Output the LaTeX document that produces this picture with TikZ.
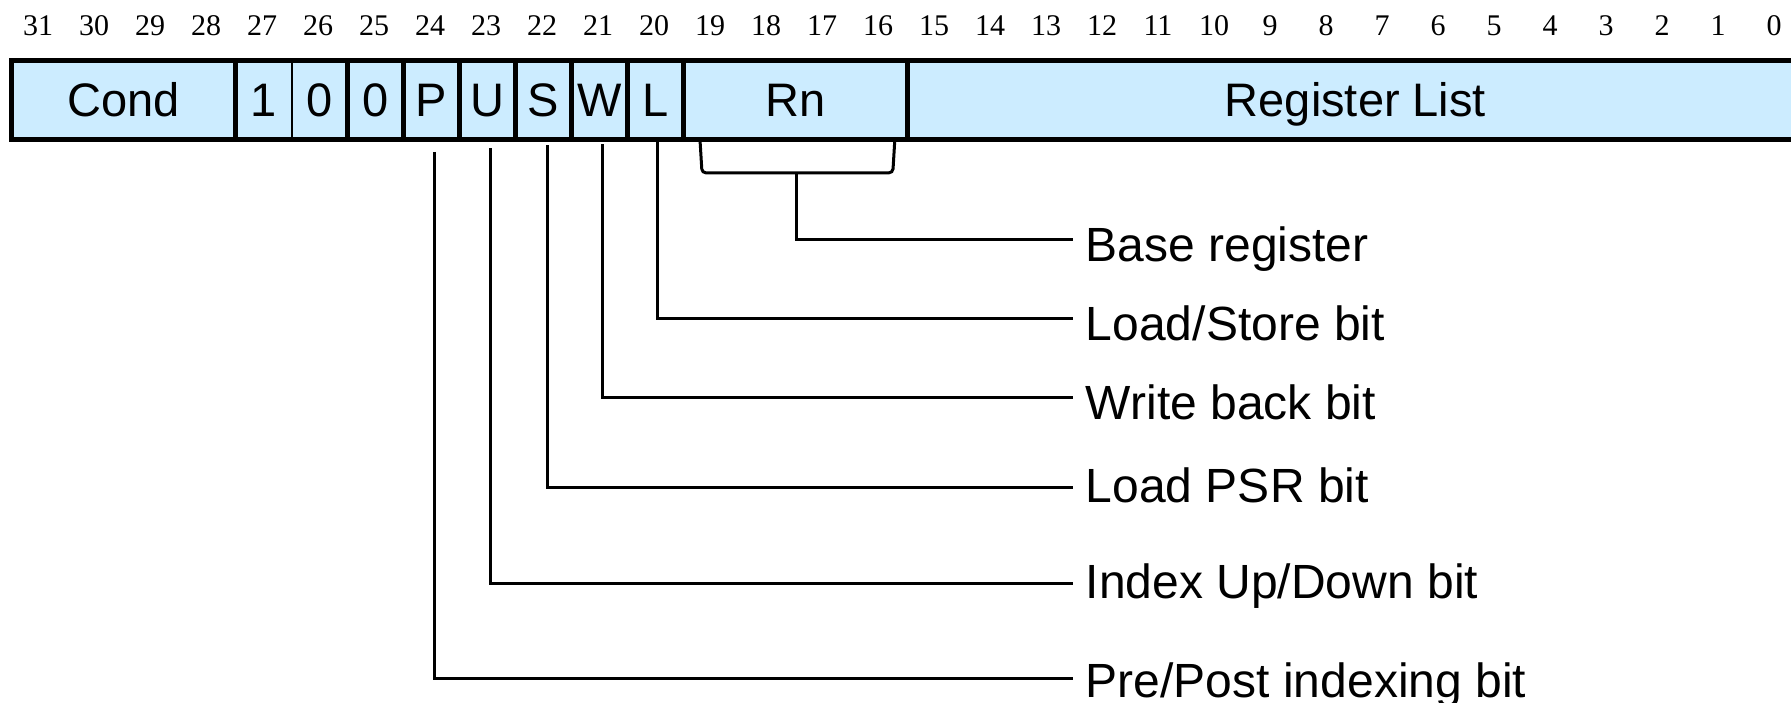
\documentclass[tikz,border=0pt]{standalone}
\usepackage{fontspec}
\setmainfont{Liberation Sans}
\newfontfamily\numfont{Liberation Serif}
\definecolor{fieldblue}{RGB}{204,236,255}
\begin{document}
\begin{tikzpicture}[x=0.5pt,y=-0.5pt,
  field/.style={rectangle, fill=fieldblue, draw=none, minimum height=39.5pt,
    inner sep=0pt, anchor=west, font=\fontsize{23.5}{28}\selectfont,
    text height=16.8pt, text depth=0pt},
  bitnum/.style={anchor=base, inner sep=0pt, font=\numfont\fontsize{15}{18}\selectfont},
  lbl/.style={anchor=west, inner xsep=6.25pt, inner ysep=0pt,
    font=\fontsize{24}{28}\selectfont, text height=22pt, text depth=0pt},
  frame/.style={line width=2.5pt},
  thindiv/.style={line width=1pt},
  conn/.style={line width=1.5pt}]
\useasboundingbox (0,0) rectangle (1791,702);
\clip (0,0) rectangle (1791,702);
% bit numbers
\foreach \b in {0,...,31}{
  \pgfmathtruncatemacro{\xx}{38+56*(31-\b)}
  \node[bitnum] (n\b) at (\xx,35) {\b};
}
% fields
\node[field, minimum width=112pt] (cond) at (11,100) {Cond};
\node[field, minimum width=28pt] (b27) at (235,100) {1};
\node[field, minimum width=28pt] (b26) at (291,100) {0};
\node[field, minimum width=28pt] (b25) at (347,100) {0};
\node[field, minimum width=28pt] (P) at (403,100) {P};
\node[field, minimum width=28pt] (U) at (459,100) {U};
\node[field, minimum width=28pt] (S) at (515,100) {S};
\node[field, minimum width=28pt] (W) at (571,100) {W};
\node[field, minimum width=28pt] (L) at (627,100) {L};
\node[field, minimum width=112pt] (Rn) at (683,100) {Rn};
\node[field, minimum width=448pt] (RL) at (907,100) {Register List};
% labels
\node[lbl] (lBase) at (1073,239) {Base register};
\node[lbl] (lLS) at (1073,318) {Load/Store bit};
\node[lbl] (lWB) at (1073,397) {Write back bit};
\node[lbl, text height=15pt] (lPSR) at (1073,487) {Load PSR bit};
\node[lbl, text height=15pt] (lUD) at (1073,583) {Index Up/Down bit};
\node[lbl, text height=19pt] (lPP) at (1073,678) {Pre/Post indexing bit};
% connectors
\draw[conn] ([shift={(3,12)}]P.south) |- (lPP.west);
\draw[conn] ([shift={(3,8.5)}]U.south) |- (lUD.west);
\draw[conn] ([shift={(4,5.5)}]S.south) |- (lPSR.west);
\draw[conn] ([shift={(3,4.5)}]W.south) |- (lWB.west);
\draw[conn] ([shift={(2,2.5)}]L.south) |- (lLS.west);
\draw[conn, rounded corners=2pt] ([shift={(17,0)}]Rn.south west) -- ([shift={(19,33)}]Rn.south west)
  -- ([shift={(-15,33)}]Rn.south east) -- ([shift={(-13,0)}]Rn.south east);
\coordinate (brk) at ([shift={(1,33)}]Rn.south);
\draw[conn] (brk) |- (lBase.west);
% frame and dividers
\draw[frame] (cond.north west) rectangle (RL.south east);
\foreach \f in {cond,b26,b25,P,U,S,W,L,Rn}{
  \draw[frame] (\f.north east) -- (\f.south east);
}
\draw[thindiv] (b27.north east) -- (b27.south east);
\end{tikzpicture}
\end{document}
